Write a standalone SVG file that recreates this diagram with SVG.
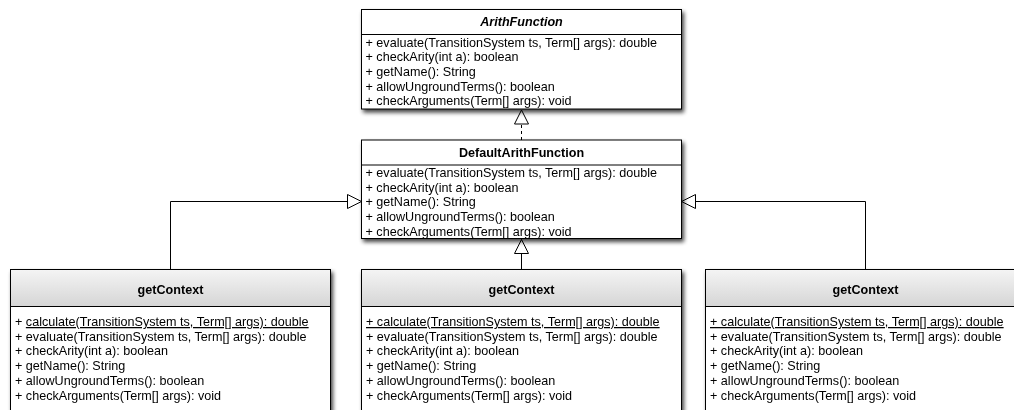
<svg xmlns="http://www.w3.org/2000/svg" width="1014" height="410" viewBox="0 0 1014 410">
  <defs>
    <linearGradient id="hdr" x1="0" y1="0" x2="0" y2="1">
      <stop offset="0" stop-color="#f4f4f4"/>
      <stop offset="1" stop-color="#d5d5d5"/>
    </linearGradient>
    <filter id="shadow" x="-5%" y="-10%" width="115%" height="130%">
      <feGaussianBlur in="SourceAlpha" stdDeviation="2"/>
      <feOffset dx="2" dy="3" result="b"/>
      <feComponentTransfer><feFuncA type="linear" slope="0.75"/></feComponentTransfer>
      <feMerge><feMergeNode/><feMergeNode in="SourceGraphic"/></feMerge>
    </filter>
    <marker id="gen" markerUnits="userSpaceOnUse" markerWidth="16" markerHeight="16" viewBox="0 0 16 16" refX="15" refY="8" orient="auto">
      <path d="M1,1 L15,8 L1,15 Z" fill="#fff" stroke="#000" stroke-width="1"/>
    </marker>
  </defs>
  <style>
    .box { fill: #fff; stroke: #000; stroke-width: 1; }
    .head { fill: url(#hdr); stroke: none; }
    .sep { stroke: #000; stroke-width: 1; }
    text { font-family: "Liberation Sans", Arial, Helvetica, sans-serif; font-size: 12.6px; fill: #000; }
    .title { font-weight: bold; text-anchor: middle; }
    .abstract { font-style: italic; }
    .u { text-decoration: underline; }
    .edge { fill: none; stroke: #000; stroke-width: 1; marker-end: url(#gen); }
    .dash { stroke-dasharray: 3 3; }
  </style>

  <rect width="1014" height="410" fill="#fff"/>

  <!-- generalisation edges -->
  <g id="connectors">
    <path class="edge dash" d="M521.5,140 L521.5,110"/>
    <path class="edge" d="M170.5,269.5 L170.5,201.5 L361.5,201.5"/>
    <path class="edge" d="M521.5,269.5 L521.5,239.5"/>
    <path class="edge" d="M865.5,269.5 L865.5,201.5 L681.5,201.5"/>
  </g>

  <!-- abstract base class -->
  <g id="ArithFunction" filter="url(#shadow)">
    <rect class="box" x="361.5" y="9.5" width="320" height="99.5"/>
    <line class="sep" x1="361.5" y1="34.5" x2="681.5" y2="34.5"/>
    <text class="title abstract" x="521.5" y="26">ArithFunction</text>
    <text x="365.5" y="46.6">+ evaluate(TransitionSystem ts, Term[] args): double</text>
    <text x="365.5" y="61.3">+ checkArity(int a): boolean</text>
    <text x="365.5" y="76">+ getName(): String</text>
    <text x="365.5" y="90.7">+ allowUngroundTerms(): boolean</text>
    <text x="365.5" y="105.4">+ checkArguments(Term[] args): void</text>
  </g>

  <!-- default implementation -->
  <g id="DefaultArithFunction" filter="url(#shadow)">
    <rect class="box" x="361.5" y="140" width="320" height="98.5"/>
    <line class="sep" x1="361.5" y1="165" x2="681.5" y2="165"/>
    <text class="title" x="521.5" y="157">DefaultArithFunction</text>
    <text x="365.5" y="176.7">+ evaluate(TransitionSystem ts, Term[] args): double</text>
    <text x="365.5" y="191.5">+ checkArity(int a): boolean</text>
    <text x="365.5" y="206.3">+ getName(): String</text>
    <text x="365.5" y="221.1">+ allowUngroundTerms(): boolean</text>
    <text x="365.5" y="235.9">+ checkArguments(Term[] args): void</text>
  </g>

  <!-- concrete subclasses -->
  <g id="getContext-left" filter="url(#shadow)">
    <rect class="box" x="10.5" y="269.5" width="320" height="170"/>
    <rect class="head" x="11" y="270" width="319" height="36.5"/>
    <line class="sep" x1="10.5" y1="306.5" x2="330.5" y2="306.5"/>
    <text class="title" x="170.5" y="293.5">getContext</text>
    <text x="15" y="326">+ <tspan class="u">calculate(TransitionSystem ts, Term[] args): double</tspan></text>
    <text x="15" y="340.7">+ evaluate(TransitionSystem ts, Term[] args): double</text>
    <text x="15" y="355.4">+ checkArity(int a): boolean</text>
    <text x="15" y="370.1">+ getName(): String</text>
    <text x="15" y="384.8">+ allowUngroundTerms(): boolean</text>
    <text x="15" y="399.5">+ checkArguments(Term[] args): void</text>
  </g>

  <g id="getContext-middle" filter="url(#shadow)">
    <rect class="box" x="361.5" y="269.5" width="320" height="170"/>
    <rect class="head" x="362" y="270" width="319" height="36.5"/>
    <line class="sep" x1="361.5" y1="306.5" x2="681.5" y2="306.5"/>
    <text class="title" x="521.5" y="293.5">getContext</text>
    <text class="u" x="366" y="326">+ calculate(TransitionSystem ts, Term[] args): double</text>
    <text x="366" y="340.7">+ evaluate(TransitionSystem ts, Term[] args): double</text>
    <text x="366" y="355.4">+ checkArity(int a): boolean</text>
    <text x="366" y="370.1">+ getName(): String</text>
    <text x="366" y="384.8">+ allowUngroundTerms(): boolean</text>
    <text x="366" y="399.5">+ checkArguments(Term[] args): void</text>
  </g>

  <g id="getContext-right" filter="url(#shadow)">
    <rect class="box" x="705.5" y="269.5" width="320" height="170"/>
    <rect class="head" x="706" y="270" width="319" height="36.5"/>
    <line class="sep" x1="705.5" y1="306.5" x2="1025.5" y2="306.5"/>
    <text class="title" x="865.5" y="293.5">getContext</text>
    <text class="u" x="710" y="326">+ calculate(TransitionSystem ts, Term[] args): double</text>
    <text x="710" y="340.7">+ evaluate(TransitionSystem ts, Term[] args): double</text>
    <text x="710" y="355.4">+ checkArity(int a): boolean</text>
    <text x="710" y="370.1">+ getName(): String</text>
    <text x="710" y="384.8">+ allowUngroundTerms(): boolean</text>
    <text x="710" y="399.5">+ checkArguments(Term[] args): void</text>
  </g>
</svg>
